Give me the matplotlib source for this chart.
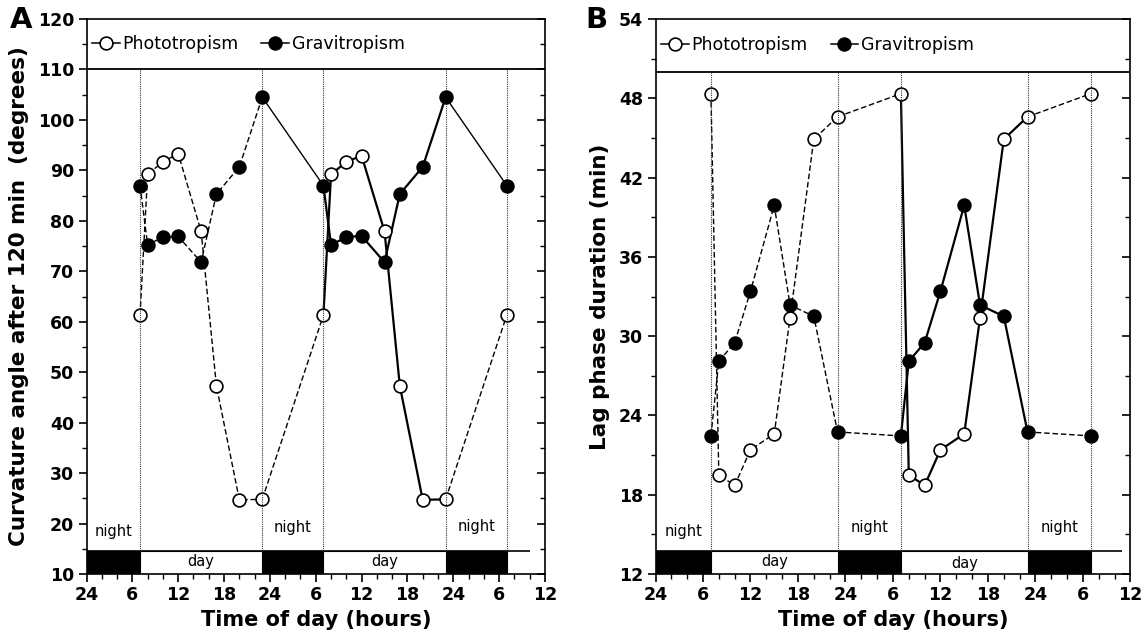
import matplotlib
matplotlib.use("Agg")
import matplotlib.pyplot as plt
from matplotlib.lines import Line2D
from matplotlib.patches import Rectangle

# ---------------- data ----------------
hours = [7, 8, 10, 12, 15, 17, 20, 23, 31, 32, 34, 36, 39, 41, 44, 47, 55]

photo_A = [61.3, 89.2, 91.7, 93.3, 77.9, 47.3, 24.7, 24.8,
           61.3, 89.2, 91.7, 92.9, 77.9, 47.3, 24.7, 24.8, 61.3]
gravi_A = [87.0, 75.2, 76.8, 76.9, 71.8, 85.3, 90.7, 104.5,
           87.0, 75.2, 76.8, 77.0, 71.8, 85.3, 90.7, 104.5, 87.0]

photo_B = [48.35, 19.5, 18.7, 21.4, 22.6, 31.4, 44.9, 46.6,
           48.35, 19.5, 18.7, 21.4, 22.6, 31.4, 44.9, 46.6, 48.35]
gravi_B = [22.45, 28.1, 29.5, 33.4, 39.9, 32.35, 31.5, 22.75,
           22.45, 28.1, 29.5, 33.4, 39.9, 32.35, 31.5, 22.75, 22.45]

xtick_pos = [0, 6, 12, 18, 24, 30, 36, 42, 48, 54, 60]
xtick_labels = ["24", "6", "12", "18", "24", "6", "12", "18", "24", "6", "12"]

night_periods = [(0, 7), (23, 31), (47, 55)]
day_periods = [(7, 23), (31, 47)]
boundaries = [7, 23, 31, 47, 55]

# segments: (start index, end index)
segments = [(0, 7), (7, 8), (8, 15), (15, 16)]
styles_A_photo = ["--", "--", "-", "--"]
styles_A_gravi = ["--", "-", "-", "-"]
styles_B_photo = ["--", "--", "-", "--"]
styles_B_gravi = ["--", "--", "-", "--"]

FONT = "DejaVu Sans"
plt.rcParams["font.family"] = [FONT]

fig = plt.figure(figsize=(11.43, 6.36), dpi=100)
axA = fig.add_axes([0.0757, 0.0975, 0.4011, 0.8726])
axB = fig.add_axes([0.5735, 0.0975, 0.4155, 0.8726])


def lw_for(ls, idx):
    if ls == "-":
        return 1.6 if idx == 2 else 1.0
    return 1.0


def draw_panel(ax, photo, gravi, sty_p, sty_g, ylim, yticks, yminor, band_y,
               bar_top, line_end, ylabel, night_y, day_y):
    ax.set_xlim(0, 60)
    ax.set_ylim(*ylim)
    # day/night bar
    ax.plot([0, line_end], [bar_top, bar_top], color="k", lw=1.2, zorder=3,
            solid_capstyle="butt")
    for a, b in night_periods:
        ax.add_patch(Rectangle((a, ylim[0]), b - a, bar_top - ylim[0],
                               facecolor="k", edgecolor="k", lw=0.8, zorder=2))
    for a, b in day_periods:
        ax.add_patch(Rectangle((a, ylim[0]), b - a, bar_top - ylim[0],
                               facecolor="white", edgecolor="k", lw=0.8, zorder=2))
    # band line
    ax.axhline(band_y, color="k", lw=1.3, zorder=3)
    # dotted lines
    for bx in boundaries:
        ax.plot([bx, bx], [bar_top, band_y], ls=(0, (1, 1)), color="#333333",
                lw=0.8, zorder=6)
    # series lines
    for k, (i, j) in enumerate(segments):
        ax.plot(hours[i:j + 1], photo[i:j + 1], color="k", ls=sty_p[k],
                lw=lw_for(sty_p[k], k), zorder=3,
                dashes=(4, 2) if sty_p[k] == "--" else (None, None))
        ax.plot(hours[i:j + 1], gravi[i:j + 1], color="k", ls=sty_g[k],
                lw=lw_for(sty_g[k], k), zorder=3,
                dashes=(4, 2) if sty_g[k] == "--" else (None, None))
    ax.plot(hours, photo, ls="none", marker="o", ms=9.2, mfc="white",
            mec="k", mew=1.2, zorder=5)
    ax.plot(hours, gravi, ls="none", marker="o", ms=9.2, mfc="k",
            mec="k", mew=1.2, zorder=7)

    # ticks
    ax.set_xticks(xtick_pos)
    ax.set_xticklabels(xtick_labels)
    ax.set_xticks(list(range(0, 61, 2)), minor=True)
    ax.set_yticks(yticks)
    ax.set_yticks(yminor, minor=True)
    ax.tick_params(axis="x", which="major", direction="out", length=6,
                   width=1.2, labelsize=12.5, pad=3, top=False)
    ax.tick_params(axis="x", which="minor", direction="out", length=3.5,
                   width=1.0, top=False)
    ax.tick_params(axis="y", which="major", direction="out", length=6,
                   width=1.2, labelsize=12.5, pad=3, right=True)
    ax.tick_params(axis="y", which="minor", direction="out", length=3.5,
                   width=1.0, right=True)
    for lab in ax.get_xticklabels() + ax.get_yticklabels():
        lab.set_fontweight("bold")
    for sp in ax.spines.values():
        sp.set_linewidth(1.2)
    # right ticks inward
    for t in ax.yaxis.get_major_ticks() + ax.yaxis.get_minor_ticks():
        t.tick2line.set_marker(matplotlib.markers.TICKLEFT)
    ax.set_xlabel("Time of day (hours)", fontsize=15, fontweight="bold",
                  labelpad=4)
    ax.set_ylabel(ylabel, fontsize=15.5, fontweight="bold", labelpad=6)

    # legend
    h1 = Line2D([0], [0], color="k", lw=1.1, marker="o", ms=9.2, mfc="white",
                mec="k", mew=1.2)
    h2 = Line2D([0], [0], color="k", lw=1.1, marker="o", ms=9.2, mfc="k",
                mec="k", mew=1.2)
    yfrac = ((ylim[1] + band_y) / 2 - ylim[0]) / (ylim[1] - ylim[0])
    ax.legend([h1, h2], ["Phototropism", "Gravitropism"], ncol=2,
              loc="center left", bbox_to_anchor=(0.005, yfrac), frameon=False,
              fontsize=12.5, handlelength=1.6, handletextpad=0.15,
              columnspacing=1.3, borderaxespad=0.0, borderpad=0.2)

    # night/day labels
    for (a, b), ny in zip(night_periods, night_y):
        ax.text((a + b) / 2, ny, "night", ha="center", va="center",
                fontsize=10.5, zorder=8)
    for (a, b), dy in zip(day_periods, day_y):
        ax.text((a + b) / 2, dy, "day", ha="center", va="center",
                fontsize=10.5, zorder=8)

    return ax


draw_panel(axA, photo_A, gravi_A, styles_A_photo, styles_A_gravi,
           (10, 120), list(range(10, 121, 10)), list(range(15, 120, 10)),
           110, 14.6, 58, "Curvature angle after 120 min  (degrees)",
           [18.5, 19.3, 19.5], [12.4, 12.4])
draw_panel(axB, photo_B, gravi_B, styles_B_photo, styles_B_gravi,
           (12, 54), list(range(12, 55, 6)), list(range(15, 54, 6)),
           50, 13.75, 58.9, "Lag phase duration (min)",
           [15.25, 15.55, 15.55], [12.95, 12.8])

fig.text(0.009, 0.968, "A", fontsize=21, fontweight="bold", va="center",
         ha="left")
fig.text(0.512, 0.968, "B", fontsize=21, fontweight="bold", va="center",
         ha="left")

fig.savefig("out.png", dpi=100)
